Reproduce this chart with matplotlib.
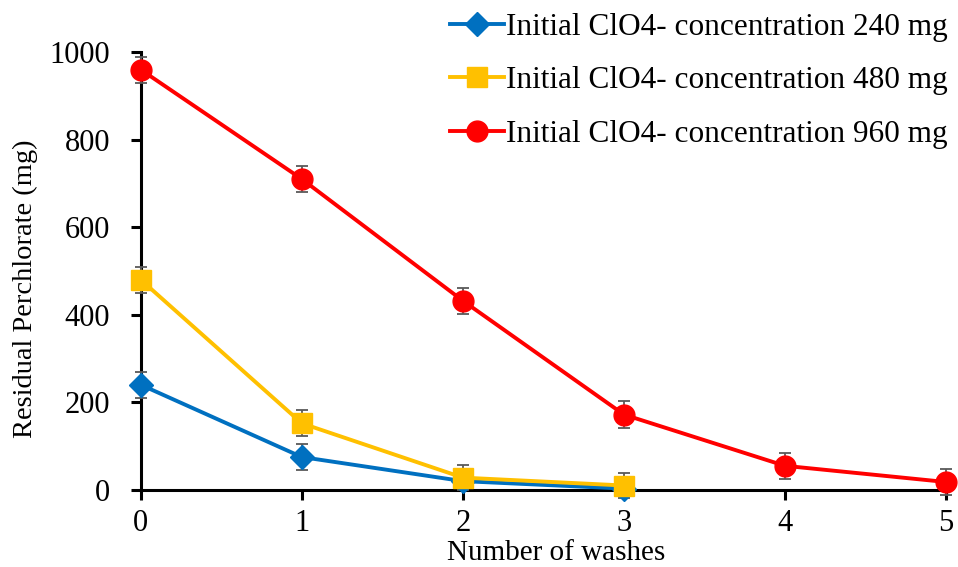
import matplotlib
matplotlib.use("Agg")
import matplotlib.pyplot as plt
from matplotlib.lines import Line2D

plt.rcParams['font.family'] = ['Liberation Serif', 'DejaVu Serif']

washes_240 = [0, 1, 2, 3]
washes_480 = [0, 1, 2, 3]
washes_960 = [0, 1, 2, 3, 4, 5]

resid_240 = [240, 75, 20, 3]
resid_480 = [480, 152, 28, 10]
resid_960 = [960, 710, 432, 172, 55, 18]

err_240 = [30, 30, 12, 5]
err_480 = [30, 30, 28, 28]
err_960 = [30, 30, 30, 30, 30, 30]

labels = ["Initial ClO4- concentration 240 mg",
          "Initial ClO4- concentration 480 mg",
          "Initial ClO4- concentration 960 mg"]

fig = plt.figure(figsize=(9.58, 5.67), dpi=100)
ax = fig.add_axes([0.147, 0.136, 0.8405, 0.772])

series = [
    (washes_240, resid_240, err_240, "#0070C0", "D", 12),
    (washes_480, resid_480, err_480, "#FFC000", "s", 14),
    (washes_960, resid_960, err_960, "#FF0000", "o", 15),
]
handles = []
for (x, y, e, c, m, ms), lab in zip(series, labels):
    ax.errorbar(x, y, yerr=e, color=c, marker=m, markersize=ms, linewidth=2.8,
                ecolor="#595959", elinewidth=1.3, capsize=4, capthick=1.3,
                clip_on=False, zorder=3)
    handles.append(Line2D([], [], color=c, marker=m, markersize=ms, linewidth=2.8, label=lab))

ax.set_xlim(0, 5)
ax.set_ylim(0, 1000)
ax.set_xticks(range(6))
ax.set_yticks(range(0, 1001, 200))
for s in ["top", "right"]:
    ax.spines[s].set_visible(False)
for s in ["left", "bottom"]:
    ax.spines[s].set_linewidth(2.2)
ax.tick_params(axis="both", direction="out", width=2.2, length=7, labelsize=22)
ax.tick_params(axis="y", pad=15)
ax.tick_params(axis="x", pad=6.5)

# axis titles placed like the original (slightly off-centre)
fig.text(0.58, 0.001, "Number of washes", fontsize=21, ha="center", va="bottom")
fig.text(0.027, 0.49, "Residual Perchlorate (mg)", fontsize=20.5, rotation=90,
         ha="center", va="center")

fig.legend(handles=handles, loc="upper right", bbox_to_anchor=(1.012, 1.016), fontsize=22.5,
           frameon=False, handlelength=1.75, handletextpad=0.05,
           labelspacing=0.78, borderaxespad=0.3)

fig.savefig("out.png", dpi=100)
